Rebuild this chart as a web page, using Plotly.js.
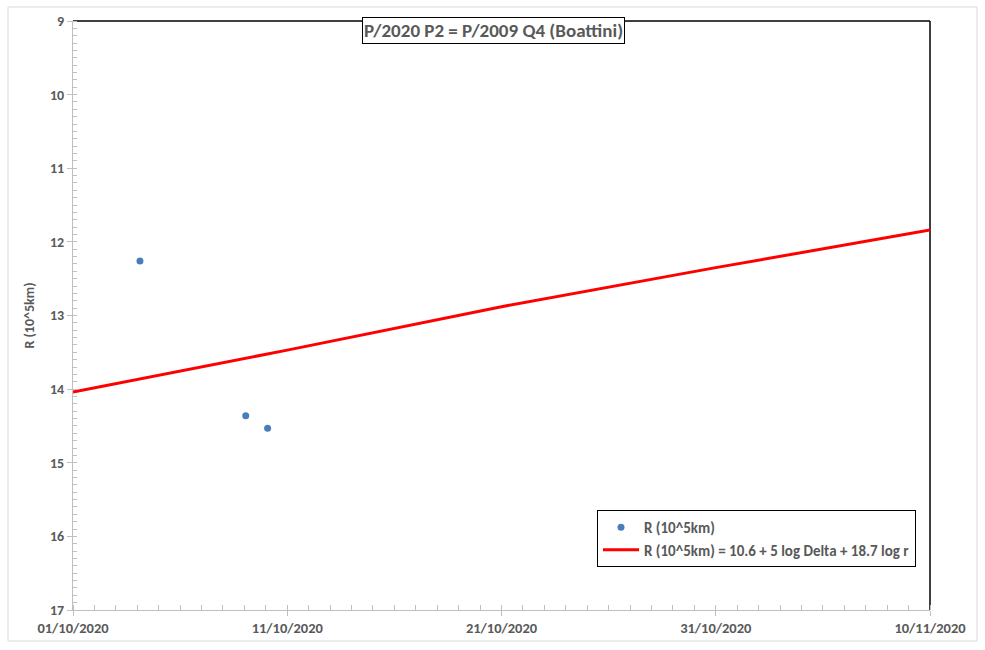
<!DOCTYPE html>
<html><head><meta charset="utf-8">
<script src="https://cdn.plot.ly/plotly-3.0.1.min.js"></script>
<style>html,body{margin:0;padding:0;background:#fff}#chart{width:985px;height:650px}</style>
</head><body><div id="chart"></div>
<script>
const obsDates = ['2020-10-04 03:00', '2020-10-09 01:30', '2020-10-10 02:00'];
const obsR = [12.26, 14.36, 14.53];
const fitDates = ['2020-10-01', '2020-10-11', '2020-10-21', '2020-10-31', '2020-11-10'];
const fitR = [14.04, 13.47, 12.88, 12.35, 11.84];
const titleText = 'P/2020 P2 = P/2009 Q4 (Boattini)';
const obsName = 'R (10^5km)';
const fitName = 'R (10^5km) = 10.6 + 5 log Delta + 18.7 log r';

const F = "Carlito, 'Liberation Sans Narrow', 'Open Sans', sans-serif";
const gray = '#595959';
const L = 73, R = 930, T = 21, B = 610;
const px = v => (v - L) / (R - L);
const py = v => (B - v) / (B - T);

const traces = [
  {x: obsDates, y: obsR, type: 'scatter', mode: 'markers', name: obsName,
   marker: {color: '#4a7ebb', size: 7}},
  {x: fitDates, y: fitR, type: 'scatter', mode: 'lines', name: fitName,
   line: {color: '#ff0000', width: 3}}
];

const layout = {
  width: 985, height: 650,
  margin: {l: L, r: 985 - R, t: T, b: 650 - B},
  paper_bgcolor: '#fff', plot_bgcolor: '#fff',
  showlegend: true,
  font: {family: F, color: gray, size: 14},
  xaxis: {
    type: 'date', range: ['2020-10-01', '2020-11-10'],
    tick0: '2020-10-01', dtick: 864000000, tickformat: '%d/%m/%Y',
    showgrid: false, zeroline: false,
    showline: true, linecolor: '#bfbfbf', linewidth: 1,
    ticks: 'outside', ticklen: 5, tickcolor: '#bfbfbf',
    tickfont: {family: F, color: gray, size: 14.5, weight: 'bold'},
    minor: {dtick: 86400000, ticks: 'inside', ticklen: 5, tickcolor: '#bfbfbf', showgrid: false}
  },
  yaxis: {
    range: [17, 9], dtick: 1, tick0: 9,
    showgrid: false, zeroline: false,
    showline: true, linecolor: '#bfbfbf', linewidth: 1,
    ticks: 'outside', ticklen: 5, tickcolor: '#bfbfbf',
    tickfont: {family: F, color: gray, size: 14, weight: 'bold'},
    minor: {dtick: 0.1, ticks: 'inside', ticklen: 4, tickcolor: '#bfbfbf', showgrid: false},
    title: {text: 'R (10^5km)', standoff: 12, font: {family: F, color: gray, size: 14, weight: 'bold'}}
  },
  legend: {
    x: px(916), xanchor: 'right', y: py(567), yanchor: 'bottom',
    bgcolor: '#fff', bordercolor: '#000', borderwidth: 1,
    font: {family: F, color: gray, size: 15, weight: 'bold'},
    itemwidth: 36,
    tracegroupgap: 0
  },
  annotations: [{
    xref: 'paper', yref: 'paper', x: px(493), y: py(30),
    xanchor: 'center', yanchor: 'middle', showarrow: false,
    text: titleText, bgcolor: '#fff', bordercolor: '#000', borderwidth: 1, borderpad: 1,
    font: {family: F, color: gray, size: 19, weight: 'bold'}
  }],
  shapes: [
    {type: 'line', xref: 'paper', yref: 'paper', x0: 0, x1: 1, y0: 1, y1: 1, line: {color: '#000', width: 1.5}, layer: 'below'},
    {type: 'line', xref: 'paper', yref: 'paper', x0: 1, x1: 1, y0: 0, y1: 1, line: {color: '#000', width: 1.5}, layer: 'below'},
    {type: 'rect', xref: 'paper', yref: 'paper', x0: px(8), x1: px(977), y0: py(641), y1: py(7), line: {color: '#d9d9d9', width: 1}, layer: 'below'}
  ]
};

Plotly.newPlot('chart', traces, layout, {displayModeBar: false, staticPlot: true});
</script></body></html>
